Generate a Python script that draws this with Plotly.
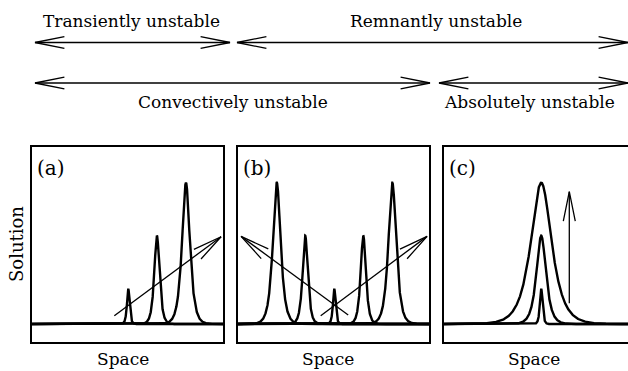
import numpy as np
import plotly.graph_objects as go

W, H = 628, 371

# ---------------- data ----------------
# Panel pulses (x in panel units 0..1, heights relative to baseline)
a_centers = [0.504, 0.654, 0.806]
a_heights = [0.2, 0.5, 0.8]
a_widths = [0.006, 0.012, 0.018]

b_centers = [0.203, 0.352, 0.504, 0.656, 0.808]
b_heights = [0.8, 0.5, 0.2, 0.5, 0.8]
b_widths = [0.018, 0.012, 0.006, 0.012, 0.018]

c_centers = [0.509, 0.509, 0.509]
c_heights = [0.2, 0.5, 0.8]
c_widths = [0.006, 0.022, 0.048]

# Arrows inside panels: (x_start, y_start, x_end, y_end)
a_arrows = [(0.431, 0.047, 0.990, 0.494)]
b_arrows = [(0.433, 0.047, 0.990, 0.496), (0.577, 0.051, 0.016, 0.496)]
c_arrows = [(0.656, 0.117, 0.656, 0.749)]

panel_letters = ["(a)", "(b)", "(c)"]

# Header: regime spans (left end, right end) on the horizontal scale, in px
row1_spans = [(35, 230), (237, 628)]
row2_spans = [(35, 430), (439, 628)]
row1_labels = ["Transiently unstable", "Remnantly unstable"]
row1_label_x = [131.5, 436]
row2_labels = ["Convectively unstable", "Absolutely unstable"]
row2_label_x = [232.5, 442]
row1_y, row2_y = 42.5, 83
row1_text_y, row2_text_y = 21, 102

# ---------------- layout geometry ----------------
panel_px = [(32, 223), (238, 429), (444, 635)]
top_px, bot_px = 147.3, 341.7
yr = [-0.1, 1.0]
sx = 191.0
sy = (bot_px - top_px) / (yr[1] - yr[0])

FONT = "DejaVu Serif"

fig = go.Figure()


def pulse(x, c, h, w):
    return h / np.cosh((x - c) / w)


def arrow_xy(x0, y0, x1, y1, L=30.0, ang=11.5):
    dx, dy = (x1 - x0) * sx, -(y1 - y0) * sy
    n = np.hypot(dx, dy)
    ux, uy = -dx / n, -dy / n
    barbs = []
    for s in (1, -1):
        t = np.radians(ang) * s
        bx = ux * np.cos(t) - uy * np.sin(t)
        by = ux * np.sin(t) + uy * np.cos(t)
        barbs.append((x1 + L * bx / sx, y1 - L * by / sy))
    return ([x0, x1, None, barbs[0][0], x1, barbs[1][0]],
            [y0, y1, None, barbs[0][1], y1, barbs[1][1]])


panels = [
    (a_centers, a_heights, a_widths, a_arrows),
    (b_centers, b_heights, b_widths, b_arrows),
    (c_centers, c_heights, c_widths, c_arrows),
]

xgrid = np.linspace(0, 1.05, 6001)

for i, (cs, hs, ws, arrs) in enumerate(panels):
    xa = "x" if i == 0 else f"x{i+1}"
    ya = "y" if i == 0 else f"y{i+1}"
    for c, h, w in zip(cs, hs, ws):
        fig.add_trace(go.Scatter(x=xgrid, y=pulse(xgrid, c, h, w), mode="lines",
                                 line=dict(color="black", width=2.4),
                                 xaxis=xa, yaxis=ya, showlegend=False, hoverinfo="skip"))
    for (x0, y0, x1, y1) in arrs:
        ax, ay = arrow_xy(x0, y0, x1, y1)
        fig.add_trace(go.Scatter(x=ax, y=ay, mode="lines",
                                 line=dict(color="black", width=1.3),
                                 xaxis=xa, yaxis=ya, showlegend=False, hoverinfo="skip"))

# header arrows on an overlay axis in px units
HL, HA = 30, np.radians(11.5)
for spans, yy in ((row1_spans, row1_y), (row2_spans, row2_y)):
    for (l, r) in spans:
        xs, ys = [l, r, None], [yy, yy, None]
        for tip, d in ((l, 1), (r, -1)):
            xs += [tip + d * HL * np.cos(HA), tip, tip + d * HL * np.cos(HA), None]
            ys += [yy - HL * np.sin(HA), yy, yy + HL * np.sin(HA), None]
        fig.add_trace(go.Scatter(x=xs, y=ys, mode="lines",
                                 line=dict(color="black", width=1.3),
                                 xaxis="x4", yaxis="y4", showlegend=False, hoverinfo="skip"))

ann = []
for lab, x in zip(row1_labels, row1_label_x):
    ann.append(dict(x=x, y=row1_text_y, text=lab, xref="x4", yref="y4", showarrow=False,
                    font=dict(family=FONT, size=17, color="black"), xanchor="center", yanchor="middle"))
for j, (lab, x) in enumerate(zip(row2_labels, row2_label_x)):
    ann.append(dict(x=x, y=row2_text_y, text=lab, xref="x4", yref="y4", showarrow=False,
                    font=dict(family=FONT, size=17, color="black"),
                    xanchor="center" if j == 0 else "left", yanchor="middle"))
for lab, (l, r) in zip(panel_letters, panel_px):
    ann.append(dict(x=l + 3, y=168, text=lab, xref="x4", yref="y4", showarrow=False,
                    font=dict(family=FONT, size=20, color="black"), xanchor="left", yanchor="middle"))
for x in (123, 328, 534):
    ann.append(dict(x=x, y=359, text="Space", xref="x4", yref="y4", showarrow=False,
                    font=dict(family=FONT, size=17, color="black"), xanchor="center", yanchor="middle"))
ann.append(dict(x=16, y=244, text="Solution", xref="x4", yref="y4", showarrow=False, textangle=-90,
                font=dict(family=FONT, size=18, color="black"), xanchor="center", yanchor="middle"))

ydom = [1 - bot_px / H, 1 - top_px / H]
lay = dict(width=W, height=H, margin=dict(l=0, r=0, t=0, b=0),
           paper_bgcolor="white", plot_bgcolor="rgba(0,0,0,0)", annotations=ann)
for i, (l, r) in enumerate(panel_px):
    sfx = "" if i == 0 else str(i + 1)
    xr_hi = (min(r, W) - l) / sx
    lay["xaxis" + sfx] = dict(domain=[l / W, min(r, W) / W], range=[0, xr_hi], showgrid=False,
                              zeroline=False, showticklabels=False, ticks="", showline=True,
                              mirror=True, linecolor="black", linewidth=1.6, anchor="y" + sfx)
    lay["yaxis" + sfx] = dict(domain=ydom, range=yr, showgrid=False, zeroline=False,
                              showticklabels=False, ticks="", showline=True,
                              mirror=(i < 2), linecolor="black", linewidth=1.6, anchor="x" + sfx)
lay["xaxis4"] = dict(domain=[0, 1], range=[0, W], visible=False, anchor="y4")
lay["yaxis4"] = dict(domain=[0, 1], range=[H, 0], visible=False, anchor="x4")
fig.update_layout(**lay)

fig.write_html("out.html")
